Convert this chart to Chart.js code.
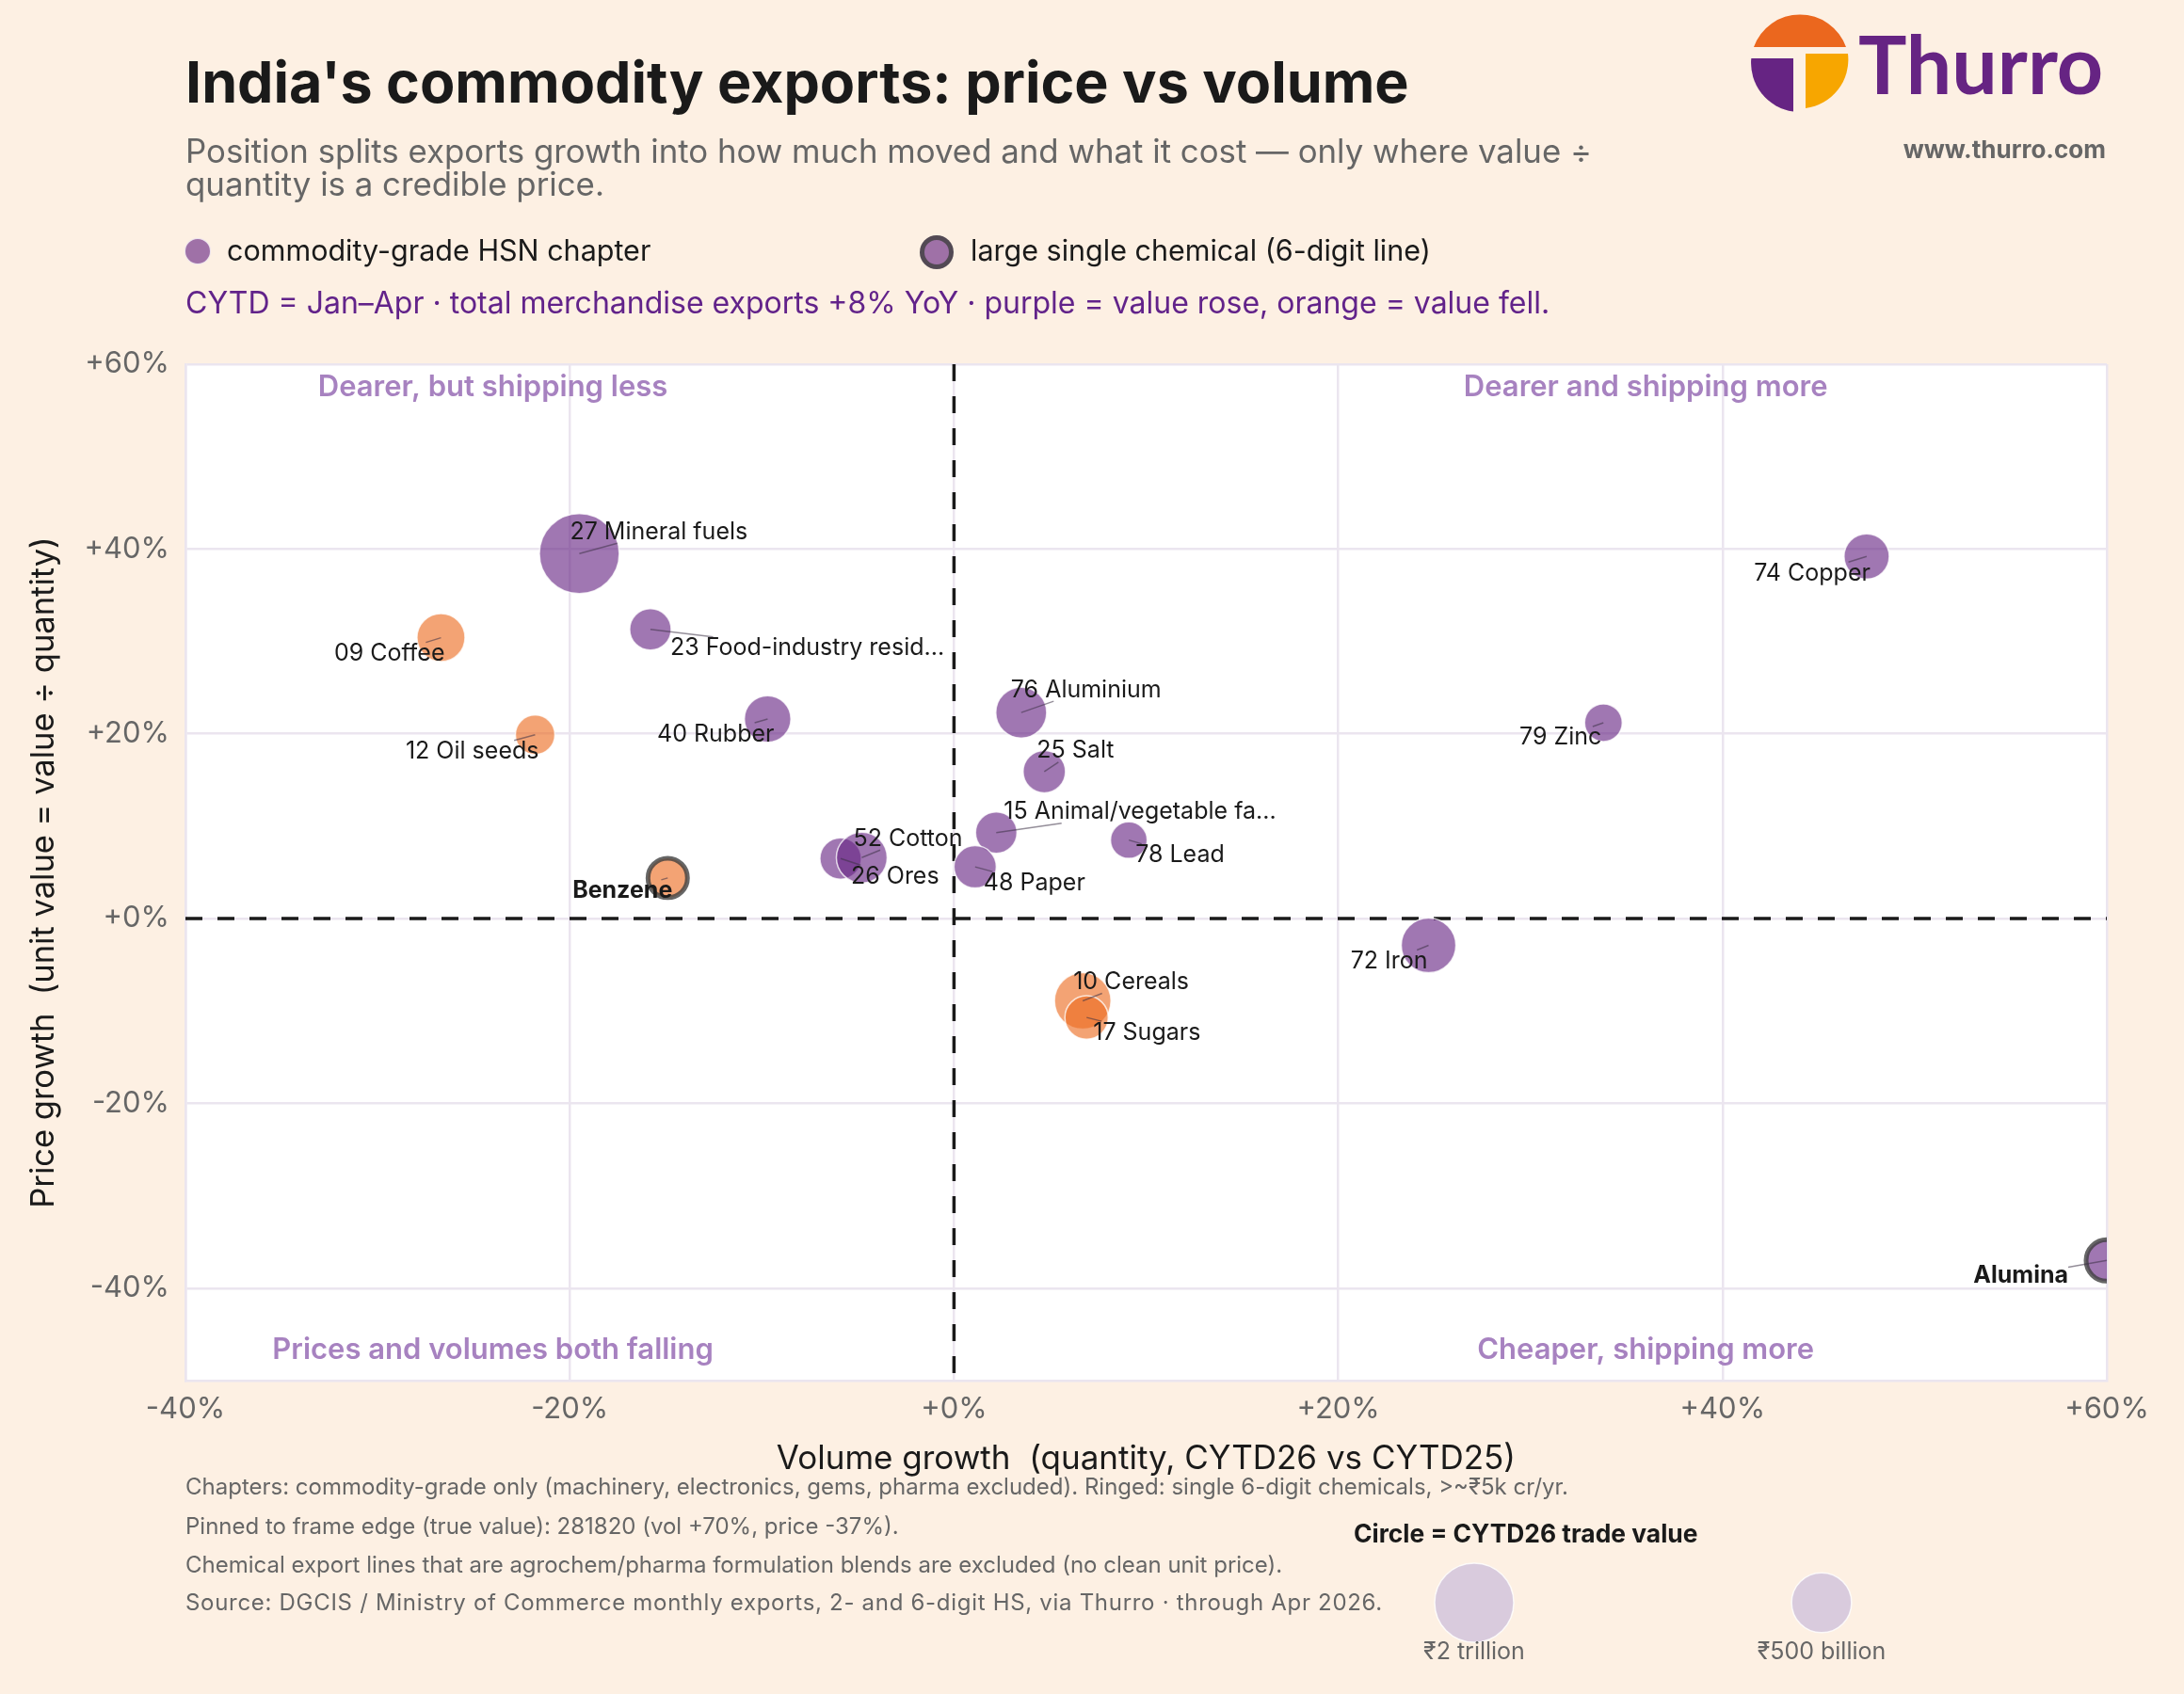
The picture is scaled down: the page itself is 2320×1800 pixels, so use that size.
<!DOCTYPE html>
<html lang="en">
<head>
<meta charset="UTF-8">
<title>India's commodity exports: price vs volume</title>
<style>
    :root {
        --bg: #fdf0e3;
        --ink: #1a1a1a;
        --grey: #666666;
        --purple: #662483;
    }

    body {
        margin: 0;
        background: var(--bg);
        font-family: Inter, "Noto Sans", sans-serif;
    }

    .page {
        position: relative;
        width: 2320px;
        height: 1800px;
        overflow: hidden;
    }

    .page > div, .page > svg {
        position: absolute;
        line-height: 1;
        white-space: nowrap;
    }

    #chartWrap { left: 0; top: 0; width: 2320px; height: 1800px; }

    .title { left: 197px; top: 57px; font-size: 61px; font-weight: 700; color: var(--ink); }
    .subtitle { left: 197px; top: 143px; font-size: 34.8px; line-height: 35px !important; color: var(--grey); }

    .dot { border-radius: 50%; box-sizing: border-box; }
    .dot.chapter { left: 196px; top: 253px; width: 28px; height: 28px; background: rgba(102, 36, 131, 0.62); border: 1.5px solid rgba(255, 255, 255, 0.8); }
    .dot.chemical { left: 977px; top: 250px; width: 36px; height: 36px; background: rgba(102, 36, 131, 0.62); border: 5px solid rgba(64, 64, 64, 0.8); }
    .legend-text { top: 251px; font-size: 30.5px; color: var(--ink); }

    .note { left: 197px; top: 306px; font-size: 32px; color: #62238a; }

    .brand { left: 1974px; top: 24px; font-family: Lato, Inter, sans-serif; font-size: 86px; font-weight: 700; color: var(--purple); }
    .web { right: 83px; top: 146px; font-size: 26px; font-weight: 700; color: var(--grey); }

    .foot { left: 197px; font-size: 24px; color: var(--grey); }
    .foot.wide { letter-spacing: 0.7px; }

    .size-title { left: 1438px; top: 1616px; font-size: 26.4px; font-weight: 700; color: var(--ink); }
    .size-label { top: 1742px; font-size: 25px; color: var(--grey); transform: translateX(-50%); }
</style>
<script src="https://cdn.jsdelivr.net/npm/chart.js@4"></script>
</head>
<body>
<div class="page">
    <div id="chartWrap"><canvas id="scatter" width="2320" height="1800"></canvas></div>

    <div class="title">India's commodity exports: price vs volume</div>
    <div class="subtitle">Position splits exports growth into how much moved and what it cost — only where value ÷<br>quantity is a credible price.</div>

    <div class="dot chapter"></div>
    <div class="legend-text" style="left:241px">commodity-grade HSN chapter</div>
    <div class="dot chemical"></div>
    <div class="legend-text" style="left:1031px">large single chemical (6-digit line)</div>

    <div class="note">CYTD = Jan–Apr · total merchandise exports +8% YoY · purple = value rose, orange = value fell.</div>

    <svg style="left:1860px; top:15px" width="106" height="106" viewBox="0 0 106 106">
        <path d="M3,35 A52,52 0 0 1 101,35 Z" fill="#eb671e"/>
        <path d="M45,47 L0.3,47 A52,52 0 0 0 45,103.5 Z" fill="#662483"/>
        <path d="M58,42 L103,42 A52,52 0 0 1 58,100 Z" fill="#f7a600"/>
    </svg>
    <div class="brand">Thurro</div>
    <div class="web">www.thurro.com</div>

    <div class="foot" style="top:1568px">Chapters: commodity-grade only (machinery, electronics, gems, pharma excluded). Ringed: single 6-digit chemicals, &gt;~₹5k cr/yr.</div>
    <div class="foot" style="top:1610px">Pinned to frame edge (true value): 281820 (vol +70%, price -37%).</div>
    <div class="foot" style="top:1651px">Chemical export lines that are agrochem/pharma formulation blends are excluded (no clean unit price).</div>
    <div class="foot wide" style="top:1691px">Source: DGCIS / Ministry of Commerce monthly exports, 2- and 6-digit HS, via Thurro · through Apr 2026.</div>

    <div class="size-title">Circle = CYTD26 trade value</div>
    <div class="size-label" style="left:1566px">₹2 trillion</div>
    <div class="size-label" style="left:1935px">₹500 billion</div>
</div>

<script>
    const chapters = ['27 Mineral fuels', '09 Coffee', '23 Food-industry resid...', '12 Oil seeds', '40 Rubber',
        '26 Ores', '52 Cotton', '76 Aluminium', '25 Salt', '15 Animal/vegetable fa...', '78 Lead', '48 Paper',
        '10 Cereals', '17 Sugars', '72 Iron', '79 Zinc', '74 Copper'];
    const chapterVolume = [-19.5, -26.7, -15.8, -21.8, -9.7, -5.9, -4.8, 3.5, 4.7, 2.2, 9.1, 1.1, 6.7, 6.9, 24.7, 33.8, 47.5];
    const chapterPrice = [39.5, 30.4, 31.3, 19.9, 21.6, 6.5, 6.6, 22.3, 15.9, 9.3, 8.5, 5.6, -8.9, -10.7, -2.9, 21.2, 39.2];
    const chapterValue = [2100, 165, 79, 62, 141, 79, 220, 220, 88, 79, 43, 88, 372, 99, 315, 49, 122];

    // large single chemicals (6-digit lines)
    const chemicals = ['Benzene', 'Alumina'];
    const chemicalVolume = [-14.9, 70];
    const chemicalPrice = [4.4, -37];
    const chemicalValue = [62, 79];

    // axes
    const xTicks = [-40, -20, 0, 20, 40, 60];
    const yTicks = [-40, -20, 0, 20, 40, 60];
    const X_MIN = -40, X_MAX = 60, Y_MIN = -50, Y_MAX = 60;

    // size key
    const sizeKeyValues = [2000, 500];

    // label placement (offset from bubble centre, px)
    const chapterLabelPos = [
        [-10, -23, 'left'], [4, 17, 'right'], [21, 20, 'left'], [4, 18, 'right'], [7, 16, 'right'],
        [11, 19, 'left'], [-9, -20, 'left'], [-11, -24, 'left'], [-8, -22, 'left'], [8, -22, 'left'],
        [7, 16, 'left'], [9, 17, 'left'], [-10, -20, 'left'], [7, 16, 'left'], [-1, 17, 'right'],
        [-2, 16, 'right'], [4, 18, 'right']
    ];
    const chemicalLabelPos = [[5, 14, 'right'], [-41, 16, 'right']];

    const PURPLE = 'rgba(102, 36, 131, 0.62)';
    const ORANGE = 'rgba(235, 106, 31, 0.62)';

    function radiusFor(value) {
        return 42 * Math.pow(value / 2000, 0.2);
    }

    function pct(v) {
        return (v >= 0 ? '+' : '') + v + '%';
    }

    function buildPoints(names, vol, price, value, pos) {
        return names.map((name, i) => ({
            x: Math.min(vol[i], X_MAX),
            y: price[i],
            r: radiusFor(value[i]),
            name: name,
            rose: (1 + vol[i] / 100) * (1 + price[i] / 100) > 1,
            pos: pos[i]
        }));
    }

    const plotBackground = {
        id: 'plotBackground',
        beforeDraw(chart) {
            const {ctx, chartArea: a} = chart;
            ctx.save();
            ctx.fillStyle = '#ffffff';
            ctx.fillRect(a.left, a.top, a.right - a.left, a.bottom - a.top);
            ctx.restore();
        }
    };

    const zeroLines = {
        id: 'zeroLines',
        beforeDatasetsDraw(chart) {
            const {ctx, chartArea: a, scales} = chart;
            const x0 = scales.x.getPixelForValue(0);
            const y0 = scales.y.getPixelForValue(0);
            ctx.save();
            ctx.strokeStyle = '#1a1a1a';
            ctx.lineWidth = 3.5;
            ctx.setLineDash([18, 16]);
            ctx.beginPath();
            ctx.moveTo(x0, a.top);
            ctx.lineTo(x0, a.bottom);
            ctx.moveTo(a.left, y0);
            ctx.lineTo(a.right, y0);
            ctx.stroke();

            // quadrant captions
            ctx.setLineDash([]);
            ctx.fillStyle = '#a782c0';
            ctx.font = '600 31px Inter';
            ctx.textAlign = 'center';
            ctx.textBaseline = 'middle';
            const w = a.right - a.left;
            const lx = a.left + w * 0.16, rx = a.left + w * 0.76;
            ctx.fillText('Dearer, but shipping less', lx, a.top + 25);
            ctx.fillText('Dearer and shipping more', rx, a.top + 25);
            ctx.fillText('Prices and volumes both falling', lx, a.bottom - 32);
            ctx.fillText('Cheaper, shipping more', rx, a.bottom - 32);
            ctx.restore();
        }
    };

    // leader from bubble centre toward the label centre, stopped at the label box
    function leaderEnd(cx, cy, box) {
        const mx = (box.l + box.r) / 2, my = (box.t + box.b) / 2;
        const dx = mx - cx, dy = my - cy;
        if (cx >= box.l && cx <= box.r && cy >= box.t && cy <= box.b) return null;
        let t = 1;
        if (dx !== 0) {
            const tx = ((dx > 0 ? box.l : box.r) - cx) / dx;
            if (tx >= 0 && tx <= 1) {
                const yy = cy + dy * tx;
                if (yy >= box.t && yy <= box.b) t = Math.min(t, tx);
            }
        }
        if (dy !== 0) {
            const ty = ((dy > 0 ? box.t : box.b) - cy) / dy;
            if (ty >= 0 && ty <= 1) {
                const xx = cx + dx * ty;
                if (xx >= box.l && xx <= box.r) t = Math.min(t, ty);
            }
        }
        return [cx + dx * t, cy + dy * t];
    }

    const bubbleLabels = {
        id: 'bubbleLabels',
        afterDatasetsDraw(chart) {
            const ctx = chart.ctx;
            ctx.save();
            chart.data.datasets.forEach((ds, di) => {
                const meta = chart.getDatasetMeta(di);
                ctx.font = (di === 1 ? '700 ' : '400 ') + '25px Inter';
                meta.data.forEach((el, i) => {
                    const p = ds.data[i];
                    const [dx, dy, align] = p.pos;
                    const tx = el.x + dx, ty = el.y + dy;
                    const tw = ctx.measureText(p.name).width;
                    const left = align === 'left' ? tx : tx - tw;
                    const box = {l: left, r: left + tw, t: ty - 12, b: ty + 12};
                    const end = leaderEnd(el.x, el.y, box);
                    if (end && Math.hypot(end[0] - el.x, end[1] - el.y) > 3) {
                        ctx.strokeStyle = 'rgba(60, 50, 70, 0.55)';
                        ctx.lineWidth = 1.5;
                        ctx.beginPath();
                        ctx.moveTo(el.x, el.y);
                        ctx.lineTo(end[0], end[1]);
                        ctx.stroke();
                    }
                    ctx.fillStyle = '#1a1a1a';
                    ctx.textAlign = align;
                    ctx.textBaseline = 'middle';
                    ctx.fillText(p.name, tx, ty);
                });
            });
            ctx.restore();
        }
    };

    const sizeKey = {
        id: 'sizeKey',
        afterDraw(chart) {
            const ctx = chart.ctx;
            const centres = [1566, 1935];
            ctx.save();
            sizeKeyValues.forEach((v, i) => {
                ctx.beginPath();
                ctx.arc(centres[i], 1703, radiusFor(v), 0, Math.PI * 2);
                ctx.fillStyle = '#d9cbdd';
                ctx.fill();
                ctx.strokeStyle = 'rgba(255, 255, 255, 0.8)';
                ctx.lineWidth = 1.5;
                ctx.stroke();
            });
            ctx.restore();
        }
    };

    const axisFont = {family: 'Inter', size: 31};

    new Chart(document.getElementById('scatter'), {
        type: 'bubble',
        data: {
            datasets: [
                {
                    label: 'commodity-grade HSN chapter',
                    data: buildPoints(chapters, chapterVolume, chapterPrice, chapterValue, chapterLabelPos),
                    backgroundColor: c => (c.raw && c.raw.rose ? PURPLE : ORANGE),
                    borderColor: 'rgba(255, 255, 255, 0.75)',
                    borderWidth: 1.5
                },
                {
                    label: 'large single chemical (6-digit line)',
                    data: buildPoints(chemicals, chemicalVolume, chemicalPrice, chemicalValue, chemicalLabelPos),
                    backgroundColor: c => (c.raw && c.raw.rose ? PURPLE : ORANGE),
                    borderColor: 'rgba(64, 64, 64, 0.8)',
                    borderWidth: 5
                }
            ]
        },
        options: {
            responsive: false,
            animation: false,
            events: [],
            layout: {padding: {top: 387, right: 82, bottom: 229, left: 0}},
            plugins: {
                legend: {display: false},
                tooltip: {enabled: false}
            },
            scales: {
                x: {
                    type: 'linear',
                    min: X_MIN,
                    max: X_MAX,
                    afterBuildTicks: s => { s.ticks = xTicks.map(v => ({value: v})); },
                    afterFit: s => { s.height = 104; },
                    grid: {color: '#ebe5ef', lineWidth: 2.5, drawTicks: false},
                    border: {display: true, color: '#ebe5ef', width: 2.5},
                    ticks: {color: '#666666', font: axisFont, padding: 12, callback: v => pct(v)},
                    title: {
                        display: true,
                        text: 'Volume growth  (quantity, CYTD26 vs CYTD25)',
                        color: '#1a1a1a',
                        font: {family: 'Inter', size: 35},
                        padding: 0
                    }
                },
                y: {
                    type: 'linear',
                    min: Y_MIN,
                    max: Y_MAX,
                    afterBuildTicks: s => { s.ticks = yTicks.map(v => ({value: v})); },
                    afterFit: s => { s.width = 197; },
                    grid: {color: '#ebe5ef', lineWidth: 2.5, drawTicks: false},
                    border: {display: true, color: '#ebe5ef', width: 2.5},
                    ticks: {color: '#666666', font: axisFont, padding: 17, callback: v => pct(v)},
                    title: {
                        display: true,
                        text: 'Price growth  (unit value = value ÷ quantity)',
                        color: '#1a1a1a',
                        font: {family: 'Inter', size: 34.5},
                        padding: {top: 26, bottom: 0}
                    }
                }
            }
        },
        plugins: [plotBackground, zeroLines, bubbleLabels, sizeKey]
    });
</script>
</body>
</html>
